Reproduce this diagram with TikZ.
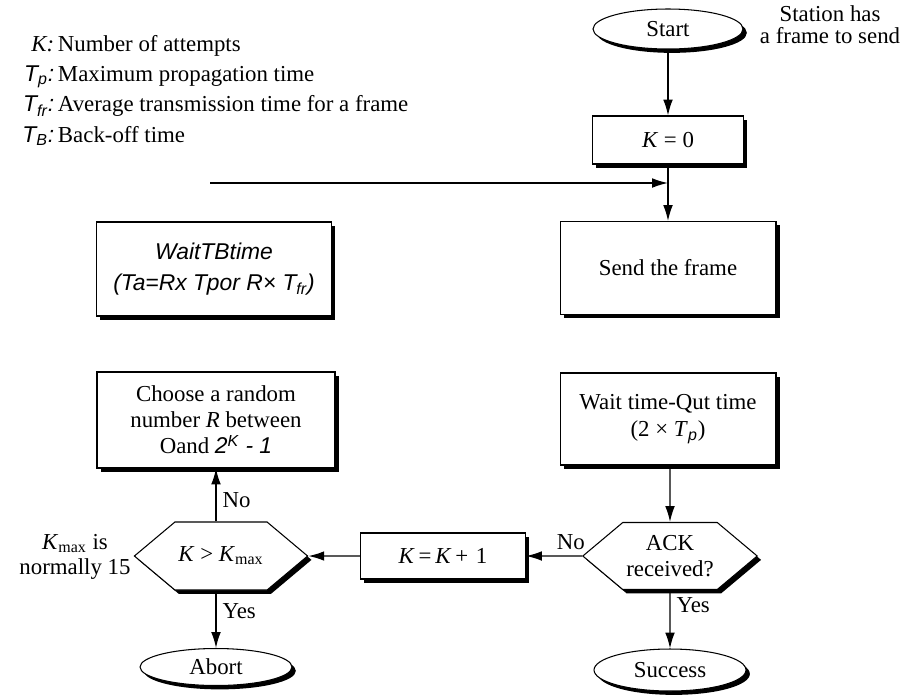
\documentclass[tikz,border=0pt]{standalone}
\usepackage{fontspec}
\setmainfont{Liberation Serif}
\setsansfont{Liberation Sans}
\usetikzlibrary{arrows.meta,shapes.geometric,shapes.symbols,shadows}

\begin{document}
\begin{tikzpicture}[x=0.02cm,y=-0.02cm,
	font=\fontsize{13}{15}\selectfont,
	flow/.style={-{Latex[length=9pt,width=5.5pt]},line width=0.8pt},
	box/.style={draw,fill=white,line width=0.6pt,align=center,inner sep=2pt,
		drop shadow={shadow xshift=2.2pt,shadow yshift=-2.2pt,fill=black,opacity=1}},
	term/.style={box,ellipse},
	test/.style={box,signal,signal to=west and east,signal pointer angle=80}]
	\useasboundingbox (0,0) rectangle (905,694);

	%Legend
	\node [anchor=north west,inner sep=0pt,font=\fontsize{13}{17.2}\selectfont] (legend) at (22,30)
	{\begin{tabular}{@{}r@{\,}l@{}}
		\textit{K:} & Number of attempts\\
		{\sffamily\itshape T\textsubscript{p}:} & Maximum propagation time\\
		{\sffamily\itshape T\textsubscript{fr}:} & Average transmission time for a frame\\
		{\sffamily\itshape T\textsubscript{B}:} & Back-off time
	\end{tabular}};

	%Start of the loop
	\node [term,minimum width=3cm,minimum height=0.8cm] (start) at (668,29) {Start};
	\node [align=center,font=\fontsize{13}{12.5}\selectfont] (station) at (830,25) {Station has\\a frame to send};
	\node [box,minimum width=3.02cm,minimum height=0.96cm] (kzero) at (668,140) {\textit{K} = 0};
	\node [box,minimum width=4.32cm,minimum height=1.86cm] (send) at (668,268) {Send the frame};
	\node [box,minimum width=4.32cm,minimum height=1.84cm,font=\fontsize{13}{15.5}\selectfont] (timeout) at (668,419)
	{Wait time-Qut time\\(2 × \textit{T}\textsubscript{\sffamily\itshape p})};
	\node [test,minimum width=2.95cm,minimum height=1.34cm,font=\fontsize{13}{14.5}\selectfont] (ack) at (670,556) {ACK\\received?};
	\node [term,minimum width=3.04cm,minimum height=0.84cm] (success) at (670,670) {Success};

	%Back-off side
	\node [box,minimum width=3.3cm,minimum height=0.92cm] (incr) at (443,556) {\textit{K}\,=\,\textit{K}\,+\,\,1};
	\node [test,minimum width=2.95cm,minimum height=1.36cm] (kmax) at (221,556) {\textit{K} > \textit{K}\textsubscript{max}};
	\node [align=center,font=\fontsize{13}{14.5}\selectfont] (kmaxnote) at (75,557) {\textit{K}\textsubscript{max} is\\normally 15};
	\node [term,minimum width=3.04cm,minimum height=0.74cm] (abort) at (216,667) {Abort};
	\node [box,minimum width=4.76cm,minimum height=1.92cm,font=\fontsize{13}{14.8}\selectfont] (choose) at (216,420)
	{Choose a random\\number \textit{R} between\\Oand {\sffamily\itshape 2\textsuperscript{K} - 1}};
	\node [box,minimum width=4.7cm,minimum height=1.88cm,font=\fontsize{13}{17.5}\selectfont\sffamily\itshape] (backoff) at (214,269)
	{WaitTBtime\\(Ta=Rx Tpor R× T\textsubscript{fr})};

	%Connectors
	\coordinate (loopin) at (210,183);
	\draw [flow] (start) -- (kzero);
	\draw [flow] (kzero) -- (send);
	\draw [flow] (loopin) -- (loopin -| kzero);
	\draw [flow] (timeout.south -| ack) -- (ack);
	\draw [flow] (ack) -- node [above,pos=0.2] {No} (incr);
	\draw [flow] (ack) -- node [right,pos=0.25] {Yes} (success);
	\draw [flow] (incr) -- (kmax);
	\draw [flow] (kmax.north -| choose) -- node [right,pos=0.4] {No} (choose);
	\draw [flow] (kmax.south -| abort) -- node [right,pos=0.35] {Yes} (abort);
\end{tikzpicture}
\end{document}
